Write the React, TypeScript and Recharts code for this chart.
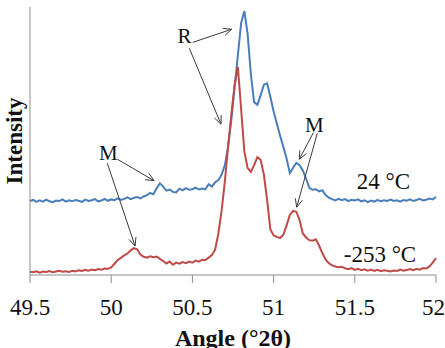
import React from "react";
import {
  LineChart,
  Line,
  XAxis,
  YAxis,
  ReferenceLine,
  ReferenceDot,
} from "recharts";

// scan angles (°2θ), 0.02 step
const angles = [
  49.5, 49.52, 49.54, 49.56, 49.58, 49.6, 49.62, 49.64, 49.66, 49.68,
  49.7, 49.72, 49.74, 49.76, 49.78, 49.8, 49.82, 49.84, 49.86, 49.88,
  49.9, 49.92, 49.94, 49.96, 49.98, 50.0, 50.02, 50.04, 50.06, 50.08,
  50.1, 50.12, 50.14, 50.16, 50.18, 50.2, 50.22, 50.24, 50.26, 50.28,
  50.3, 50.32, 50.34, 50.36, 50.38, 50.4, 50.42, 50.44, 50.46, 50.48,
  50.5, 50.52, 50.54, 50.56, 50.58, 50.6, 50.62, 50.64, 50.66, 50.68,
  50.7, 50.72, 50.74, 50.76, 50.78, 50.8, 50.82, 50.84, 50.86, 50.88,
  50.9, 50.92, 50.94, 50.96, 50.98, 51.0, 51.02, 51.04, 51.06, 51.08,
  51.1, 51.12, 51.14, 51.16, 51.18, 51.2, 51.22, 51.24, 51.26, 51.28,
  51.3, 51.32, 51.34, 51.36, 51.38, 51.4, 51.42, 51.44, 51.46, 51.48,
  51.5, 51.52, 51.54, 51.56, 51.58, 51.6, 51.62, 51.64, 51.66, 51.68,
  51.7, 51.72, 51.74, 51.76, 51.78, 51.8, 51.82, 51.84, 51.86, 51.88,
  51.9, 51.92, 51.94, 51.96, 51.98, 52.0,
];

// 24 °C pattern (offset upward)
const roomTemp = [
  27.6, 28.0, 27.3, 27.9, 27.4, 28.1, 27.5, 27.2, 27.8, 27.6,
  28.2, 27.4, 27.9, 27.5, 28.0, 27.7, 27.3, 28.1, 27.6, 27.9,
  28.3, 27.5, 27.8, 28.4, 27.7, 28.2, 27.9, 28.6, 28.0, 28.4,
  29.0, 28.3, 28.8, 29.1, 28.6, 29.3, 29.8, 30.6, 30.1, 32.4,
  34.2, 33.0, 31.5, 31.9, 31.0, 30.8, 32.2, 31.6, 32.4, 31.8,
  32.0, 32.6, 31.9, 32.3, 32.0, 33.9, 33.0, 34.6, 35.4, 37.5,
  41.0, 48.0, 58.0, 70.0, 82.0, 94.0, 98.5, 90.0, 75.0, 64.5,
  63.5, 67.0, 71.0, 71.5, 66.5, 61.0, 56.5, 52.0, 47.8, 43.5,
  38.0, 40.0, 41.8, 41.0, 39.0, 36.0, 32.5, 31.8, 32.0, 31.2,
  31.6, 29.8, 28.9, 28.3, 27.8, 28.4, 27.9, 28.3, 27.6, 28.1,
  27.8, 28.2, 27.5, 27.9, 27.2, 27.8, 27.4, 28.0, 27.5, 27.9,
  27.6, 28.1, 27.6, 27.9, 27.4, 28.0, 27.7, 28.2, 27.6, 28.0,
  28.4, 27.8, 28.1, 28.5, 28.2, 29.2,
];

// -253 °C pattern
const lowTemp = [
  1.2, 1.0, 1.4, 0.9, 1.3, 1.1, 1.5, 1.0, 1.3, 1.6,
  1.2, 1.4, 1.1, 1.6, 1.3, 1.8, 1.5, 1.9, 1.6, 2.0,
  1.8, 2.2, 2.0, 2.4, 2.3, 2.8, 4.2, 5.6, 6.4, 7.3,
  8.0, 9.2, 10.0, 9.6, 7.6, 6.8, 6.5, 7.0, 6.6, 6.9,
  6.0, 5.2, 4.3, 5.0, 3.8, 4.6, 4.2, 4.8, 4.4, 5.0,
  4.6, 5.4, 5.0, 5.7, 5.6, 6.5, 7.4, 9.5, 15.5, 24.0,
  35.0, 48.0, 60.0, 71.0, 77.7, 62.0, 46.0, 40.0, 38.5, 41.0,
  44.0, 43.0, 37.5, 28.0, 17.0, 14.8, 14.2, 13.8, 15.0, 18.5,
  22.4, 23.9, 23.6, 20.5, 15.5, 14.0, 13.0, 12.8, 13.3, 11.0,
  8.2, 5.8, 4.4, 3.6, 3.2, 2.9, 3.1, 2.5, 2.2, 2.6,
  1.9, 2.3, 1.8, 2.1, 1.6, 2.0, 1.5, 1.9, 1.4, 1.8,
  1.6, 1.3, 1.7, 1.5, 2.0, 1.6, 1.9, 2.2, 1.8, 2.3,
  2.0, 2.6, 2.4, 3.2, 4.6, 6.3,
];

const xTicks = [49.5, 50, 50.5, 51, 51.5, 52];

// annotation arrows: [fromAngle, fromIntensity, toAngle, toIntensity]
const arrows = [
  [50.502, 86.8, 50.742, 91.7],
  [50.481, 84.6, 50.676, 56.3],
  [50.038, 43.2, 50.264, 35.2],
  [49.976, 41.7, 50.147, 10.8],
  [51.245, 53.1, 51.158, 43.2],
  [51.269, 52.9, 51.142, 25.3],
];

const notes = [
  { text: "R", x: 50.451, y: 89.3, size: 21 },
  { text: "M", x: 49.982, y: 45.4, size: 21 },
  { text: "M", x: 51.251, y: 56, size: 21 },
  { text: "24 °C", x: 51.676, y: 34.8, size: 23 },
  { text: "-253 °C", x: 51.655, y: 7.5, size: 23 },
];

const data = angles.map((a, i) => ({
  angle: a,
  rt: roomTemp[i],
  lt: lowTemp[i],
}));

const SERIF = "'Liberation Serif', 'Times New Roman', serif";
const AXIS_GRAY = "#8c8c8c";

const Arrow = (p: any) => {
  const { x1, y1, x2, y2 } = p;
  const ang = Math.atan2(y2 - y1, x2 - x1);
  const L = 9;
  const w = 0.42;
  const ax = x2 - L * Math.cos(ang - w);
  const ay = y2 - L * Math.sin(ang - w);
  const bx = x2 - L * Math.cos(ang + w);
  const by = y2 - L * Math.sin(ang + w);
  return (
    <g>
      <line x1={x1} y1={y1} x2={x2} y2={y2} stroke="#3a3a3a" strokeWidth={1} />
      <polyline
        points={`${ax},${ay} ${x2},${y2} ${bx},${by}`}
        fill="none"
        stroke="#3a3a3a"
        strokeWidth={1}
      />
    </g>
  );
};

const App = () => {
  return (
    <div style={{ position: "absolute", left: 0, top: 0 }}>
      <LineChart
        width={445}
        height={348}
        data={data}
        margin={{ top: 7, right: 9, bottom: 0, left: 0 }}
      >
        <XAxis
          dataKey="angle"
          type="number"
          domain={[49.5, 52]}
          ticks={xTicks}
          height={73}
          tickSize={8}
          tickMargin={16}
          axisLine={{ stroke: AXIS_GRAY }}
          tickLine={{ stroke: AXIS_GRAY }}
          tick={{ fill: "#111", fontSize: 23, fontFamily: SERIF }}
          label={{
            content: (props: any) => {
              const vb = props.viewBox;
              return (
                <text
                  x={vb.x + vb.width / 2}
                  y={vb.y + 71}
                  textAnchor="middle"
                  fontFamily={SERIF}
                  fontWeight="bold"
                  fontSize={24}
                  fill="#111"
                >
                  Angle (°2θ)
                </text>
              );
            },
          }}
        />
        <YAxis
          type="number"
          domain={[0, 100]}
          width={30}
          tick={false}
          tickLine={false}
          axisLine={{ stroke: AXIS_GRAY }}
          label={{
            content: () => (
              <text
                x={14}
                y={141}
                transform="rotate(-90 14 141)"
                textAnchor="middle"
                dominantBaseline="central"
                fontFamily={SERIF}
                fontWeight="bold"
                fontSize={23}
                fill="#111"
              >
                Intensity
              </text>
            ),
          }}
        />
        <Line
          dataKey="rt"
          type="linear"
          stroke="#4a7ebb"
          strokeWidth={2}
          dot={false}
          isAnimationActive={false}
        />
        <Line
          dataKey="lt"
          type="linear"
          stroke="#be4b48"
          strokeWidth={2}
          dot={false}
          isAnimationActive={false}
        />
        {arrows.map((a, i) => (
          <ReferenceLine
            key={`arrow-${i}`}
            segment={[
              { x: a[0], y: a[1] },
              { x: a[2], y: a[3] },
            ]}
            ifOverflow="visible"
            shape={Arrow}
          />
        ))}
        {notes.map((n, i) => (
          <ReferenceDot
            key={`note-${i}`}
            x={n.x}
            y={n.y}
            r={0}
            ifOverflow="visible"
            shape={(p: any) => (
              <text
                x={p.cx}
                y={p.cy}
                textAnchor="middle"
                dominantBaseline="central"
                fontFamily={SERIF}
                fontSize={n.size}
                fill="#111"
              >
                {n.text}
              </text>
            )}
          />
        ))}
      </LineChart>
    </div>
  );
};

export default App;
